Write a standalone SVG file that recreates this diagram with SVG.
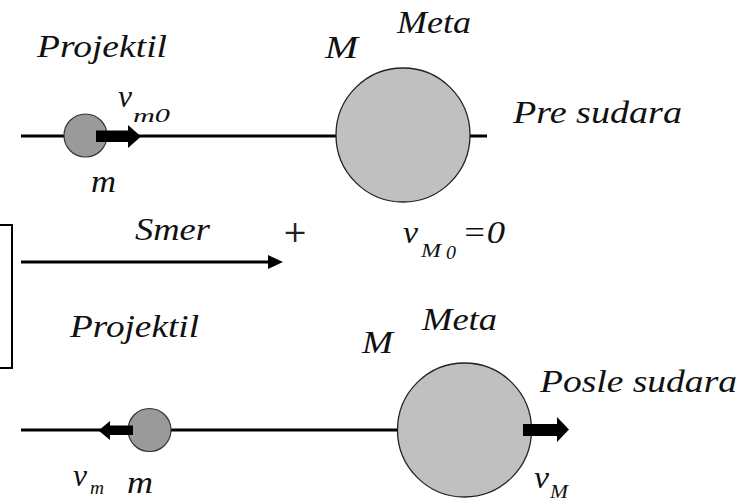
<svg xmlns="http://www.w3.org/2000/svg" width="749" height="502" viewBox="0 0 749 502">
<style>
text{font-family:'Liberation Serif','DejaVu Serif',serif}
.t{font-style:italic;font-size:31px;fill:#111}
.s{font-style:italic;font-size:19px;fill:#111}
.p{font-family:'DejaVu Serif',serif;font-size:30px;fill:#222;font-style:normal}
.ln{stroke:#000;stroke-width:3;fill:none}
.small{fill:#9a9a9a;stroke:#333;stroke-width:1.2}
.big{fill:#c0c0c0;stroke:#222;stroke-width:1.3}
.fat{fill:#000}
</style>
<rect width="749" height="502" fill="#fff"/>
<g id="connectors">
<line class="ln" x1="21" y1="136" x2="487" y2="136"/>
<line class="ln" x1="21" y1="430" x2="400" y2="430"/>
<path d="M21,262 H270" stroke="#000" stroke-width="3" fill="none"/>
<path d="M268,255 L283,262 L268,269 Z" fill="#000"/>
</g>
<g id="frame">
<path d="M-2,225 H12 V368 H-2" fill="none" stroke="#000" stroke-width="2"/>
</g>
<g id="target-before">
<circle class="big" cx="403" cy="135" r="67"/>
<text class="t" x="325" y="58" textLength="33" lengthAdjust="spacingAndGlyphs">M</text>
<text class="t" x="397" y="33" textLength="74" lengthAdjust="spacingAndGlyphs">Meta</text>
<text class="t" x="403" y="243" textLength="15" lengthAdjust="spacingAndGlyphs">v</text>
<text class="s" x="421" y="257" textLength="20" lengthAdjust="spacingAndGlyphs">M</text>
<text class="s" x="446" y="259" textLength="10" lengthAdjust="spacingAndGlyphs">0</text>
<text class="t" x="462" y="243" textLength="43" lengthAdjust="spacingAndGlyphs">=0</text>
</g>
<g id="projectile-before">
<circle class="small" cx="85.5" cy="135.5" r="21.5"/>
<path class="fat" d="M96,130.5 H128 V125 L141,136.5 L128,148 V142 H96 Z"/>
<text class="t" x="37" y="57" textLength="130" lengthAdjust="spacingAndGlyphs">Projektil</text>
<text class="t" x="118" y="107" textLength="14" lengthAdjust="spacingAndGlyphs">v</text>
<text class="s" x="133" y="122" textLength="37" lengthAdjust="spacingAndGlyphs">m0</text>
<text class="t" x="91" y="192" textLength="25" lengthAdjust="spacingAndGlyphs">m</text>
</g>
<g id="label-before">
<text class="t" x="513" y="123" textLength="169" lengthAdjust="spacingAndGlyphs">Pre sudara</text>
</g>
<g id="direction">
<text class="t" x="135" y="240" textLength="75" lengthAdjust="spacingAndGlyphs">Smer</text>
<text class="p" x="295" y="242" text-anchor="middle">+</text>
</g>
<g id="projectile-after">
<circle class="small" cx="149.5" cy="430" r="21.5"/>
<path class="fat" d="M133,425.5 H110 V421 L98.5,430.5 L110,440 V435 H133 Z"/>
<text class="t" x="73" y="486" textLength="14" lengthAdjust="spacingAndGlyphs">v</text>
<text class="s" x="90" y="494" textLength="14" lengthAdjust="spacingAndGlyphs">m</text>
<text class="t" x="70" y="337" textLength="129" lengthAdjust="spacingAndGlyphs">Projektil</text>
<text class="t" x="127" y="493" textLength="26" lengthAdjust="spacingAndGlyphs">m</text>
</g>
<g id="target-after">
<circle class="big" cx="464.5" cy="430" r="67"/>
<path class="fat" d="M523,424 H557 V417 L569,429.5 L557,442 V436 H523 Z"/>
<text class="t" x="422" y="330" textLength="75" lengthAdjust="spacingAndGlyphs">Meta</text>
<text class="t" x="362" y="353" textLength="31" lengthAdjust="spacingAndGlyphs">M</text>
<text class="t" x="534" y="488" textLength="15" lengthAdjust="spacingAndGlyphs">v</text>
<text class="s" x="550" y="498" textLength="18" lengthAdjust="spacingAndGlyphs">M</text>
</g>
<g id="label-after">
<text class="t" x="540" y="392" textLength="197" lengthAdjust="spacingAndGlyphs">Posle sudara</text>
</g>
</svg>
